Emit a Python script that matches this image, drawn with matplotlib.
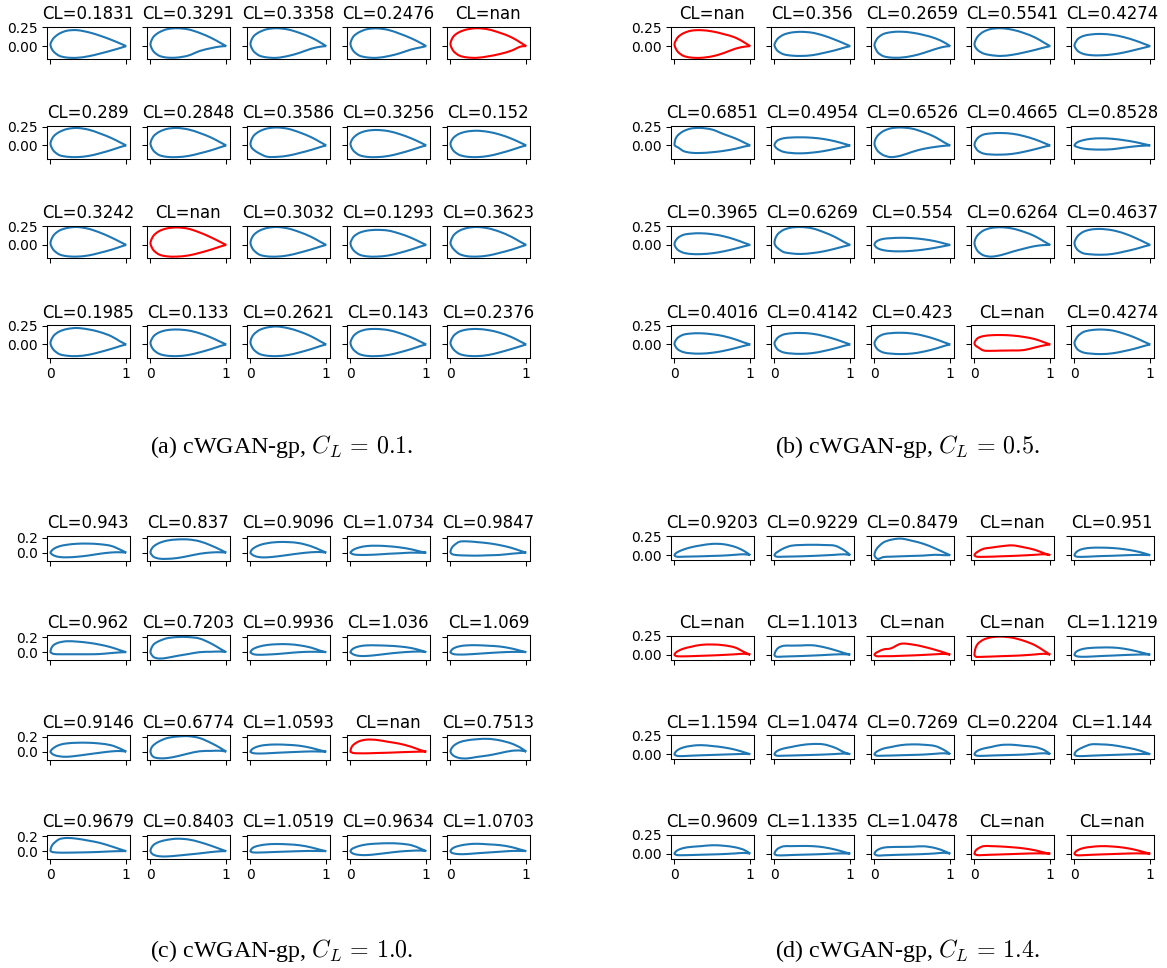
"""Grids of generated airfoils from four cWGAN-gp runs, one panel per target CL."""
import numpy as np
import matplotlib
matplotlib.use("Agg")
import matplotlib.pyplot as plt
from matplotlib.patches import PathPatch
from matplotlib.path import Path

W, H = 1167, 968
plt.rcParams["mathtext.fontset"] = "cm"

# chord stations shared by every outline, y values below are in 1/1000 chord
XS = [0.015, 0.05, 0.12, 0.22, 0.35, 0.5, 0.65, 0.8, 0.92]

A_CL = ["0.1831", "0.3291", "0.3358", "0.2476", "nan",
        "0.289", "0.2848", "0.3586", "0.3256", "0.152",
        "0.3242", "nan", "0.3032", "0.1293", "0.3623",
        "0.1985", "0.133", "0.2621", "0.143", "0.2376"]
A_LE = [20, 25, 30, 30, 30, 25, 25, 20, 20, 20, 25, 25, 30, 20, 25, 20, 20, 30, 20, 20]
A_UP = [
    [66, 115, 168, 205, 212, 185, 140, 85, 35],
    [80, 135, 186, 225, 238, 222, 175, 110, 45],
    [86, 140, 188, 225, 238, 220, 175, 115, 50],
    [86, 140, 188, 225, 236, 215, 165, 105, 45],
    [86, 140, 188, 222, 238, 222, 178, 120, 50],
    [76, 130, 180, 218, 232, 210, 160, 100, 40],
    [78, 133, 183, 220, 232, 212, 165, 105, 42],
    [80, 137, 188, 225, 238, 220, 172, 110, 45],
    [66, 114, 163, 195, 205, 190, 150, 95, 40],
    [66, 112, 157, 185, 195, 180, 145, 92, 38],
    [80, 138, 192, 225, 238, 215, 165, 100, 40],
    [78, 134, 186, 220, 232, 215, 165, 100, 40],
    [86, 140, 190, 225, 238, 218, 170, 108, 42],
    [66, 118, 162, 190, 200, 190, 150, 95, 38],
    [80, 138, 190, 225, 238, 220, 175, 110, 42],
    [70, 124, 173, 205, 218, 200, 165, 110, 40],
    [66, 118, 162, 190, 198, 185, 148, 92, 36],
    [88, 140, 192, 225, 238, 215, 170, 108, 42],
    [70, 124, 172, 200, 205, 190, 150, 95, 38],
    [70, 124, 172, 198, 205, 190, 155, 100, 40],
]
A_LOW = [
    [-33, -81, -130, -152, -155, -135, -100, -60, -25],
    [-28, -81, -130, -152, -152, -125, -65, -27, -5],
    [-24, -77, -127, -150, -155, -130, -88, -35, -8],
    [-24, -77, -127, -150, -155, -133, -95, -45, -18],
    [-24, -77, -127, -150, -155, -135, -105, -62, -8],
    [-28, -81, -130, -150, -155, -140, -105, -62, -22],
    [-28, -81, -130, -152, -155, -140, -105, -65, -25],
    [-28, -64, -108, -150, -152, -135, -100, -60, -22],
    [-32, -81, -130, -152, -155, -140, -105, -62, -22],
    [-32, -81, -127, -150, -155, -140, -105, -62, -22],
    [-26, -77, -127, -150, -155, -140, -105, -65, -25],
    [-28, -81, -130, -152, -155, -140, -105, -62, -22],
    [-26, -78, -130, -152, -155, -138, -102, -60, -22],
    [-32, -81, -130, -152, -155, -140, -105, -62, -22],
    [-18, -66, -122, -150, -155, -140, -105, -65, -25],
    [-32, -81, -130, -150, -155, -138, -102, -60, -22],
    [-32, -81, -127, -150, -155, -140, -105, -62, -22],
    [-24, -77, -127, -150, -155, -140, -105, -62, -22],
    [-32, -81, -130, -152, -155, -140, -105, -62, -22],
    [-28, -77, -127, -150, -155, -140, -105, -62, -25],
]

B_CL = ["nan", "0.356", "0.2659", "0.5541", "0.4274",
        "0.6851", "0.4954", "0.6526", "0.4665", "0.8528",
        "0.3965", "0.6269", "0.554", "0.6264", "0.4637",
        "0.4016", "0.4142", "0.423", "nan", "0.4274"]
B_LE = [25, 15, 15, 25, 10, 15, 5, 25, 10, 0, 10, 30, 5, 25, 25, 10, 15, 15, 15, 20]
B_UP = [
    [70, 124, 172, 205, 212, 195, 160, 115, 50],
    [58, 106, 152, 180, 190, 178, 140, 85, 35],
    [64, 116, 162, 185, 192, 178, 148, 105, 50],
    [80, 136, 192, 228, 238, 218, 175, 115, 45],
    [52, 100, 136, 155, 162, 150, 120, 75, 30],
    [88, 140, 190, 225, 232, 210, 150, 95, 38],
    [40, 72, 95, 105, 108, 102, 85, 55, 22],
    [86, 138, 192, 228, 238, 222, 175, 112, 40],
    [58, 106, 145, 160, 165, 155, 125, 80, 32],
    [24, 48, 71, 88, 95, 88, 70, 45, 18],
    [56, 98, 135, 150, 155, 142, 115, 72, 28],
    [95, 150, 200, 230, 238, 220, 170, 105, 38],
    [35, 60, 81, 90, 95, 90, 75, 50, 20],
    [86, 138, 192, 225, 235, 218, 175, 115, 45],
    [74, 126, 176, 205, 212, 195, 155, 95, 38],
    [52, 94, 130, 145, 148, 135, 110, 68, 25],
    [52, 96, 132, 148, 152, 142, 112, 70, 28],
    [56, 100, 135, 150, 155, 145, 115, 72, 28],
    [52, 88, 111, 122, 125, 118, 100, 70, 28],
    [64, 116, 166, 190, 198, 185, 145, 90, 35],
]
B_LOW = [
    [-28, -81, -130, -152, -155, -135, -92, -35, -8],
    [-28, -70, -108, -125, -130, -120, -90, -55, -20],
    [-35, -90, -134, -152, -152, -130, -90, -40, -8],
    [-18, -58, -98, -120, -130, -115, -85, -50, -18],
    [-28, -70, -104, -120, -122, -110, -85, -50, -20],
    [-10, -28, -75, -97, -100, -90, -72, -45, -15],
    [-24, -54, -85, -100, -105, -95, -75, -45, -18],
    [-28, -81, -130, -155, -135, -85, -45, -20, -5],
    [-30, -74, -108, -120, -122, -112, -85, -50, -18],
    [-12, -25, -42, -52, -55, -50, -30, -12, -3],
    [-30, -70, -104, -120, -122, -110, -85, -50, -18],
    [-12, -48, -94, -112, -120, -108, -85, -50, -18],
    [-22, -48, -70, -82, -85, -78, -62, -38, -15],
    [-33, -90, -138, -155, -135, -90, -50, -15, -2],
    [-28, -74, -112, -125, -130, -120, -90, -55, -20],
    [-30, -70, -103, -118, -122, -110, -85, -50, -18],
    [-30, -73, -106, -120, -125, -115, -88, -52, -18],
    [-30, -73, -108, -122, -128, -120, -95, -58, -20],
    [-15, -40, -80, -85, -82, -80, -75, -40, -12],
    [-30, -74, -108, -122, -128, -118, -90, -55, -20],
]

C_CL = ["0.943", "0.837", "0.9096", "1.0734", "0.9847",
        "0.962", "0.7203", "0.9936", "1.036", "1.069",
        "0.9146", "0.6774", "1.0593", "nan", "0.7513",
        "0.9679", "0.8403", "1.0519", "0.9634", "1.0703"]
C_LE = [0, 5, 0, 0, 10, 5, 5, 0, 0, 0, 0, 5, 0, 5, 5, 10, 5, 0, 0, 0]
C_UP = [
    [25, 55, 85, 105, 118, 120, 112, 90, 40],
    [50, 90, 130, 160, 175, 175, 150, 95, 40],
    [35, 65, 100, 125, 140, 140, 125, 85, 35],
    [20, 45, 70, 88, 92, 85, 70, 45, 15],
    [60, 100, 145, 150, 140, 125, 100, 65, 25],
    [60, 100, 130, 145, 140, 125, 100, 65, 25],
    [60, 110, 150, 185, 200, 200, 180, 115, 45],
    [25, 50, 75, 95, 105, 105, 90, 60, 20],
    [28, 55, 78, 90, 90, 85, 75, 55, 25],
    [28, 55, 78, 90, 92, 85, 75, 50, 20],
    [25, 55, 90, 110, 118, 118, 108, 85, 40],
    [55, 95, 140, 180, 200, 205, 180, 115, 50],
    [25, 50, 75, 90, 95, 90, 78, 50, 18],
    [60, 100, 140, 160, 155, 130, 105, 65, 22],
    [45, 85, 125, 150, 165, 170, 150, 110, 55],
    [65, 110, 160, 175, 165, 140, 110, 65, 25],
    [50, 90, 125, 150, 165, 155, 120, 72, 28],
    [30, 55, 75, 90, 95, 90, 78, 50, 18],
    [25, 45, 70, 90, 100, 105, 100, 80, 35],
    [25, 50, 72, 90, 98, 90, 80, 55, 22],
]
C_LOW = [
    [-18, -40, -58, -62, -55, -38, -15, 2, 5],
    [-28, -60, -80, -82, -72, -45, -15, 2, 5],
    [-20, -42, -60, -62, -50, -30, -10, 5, 8],
    [-12, -25, -30, -30, -25, -15, -8, 0, -2],
    [-15, -28, -35, -38, -40, -35, -30, -15, -5],
    [-12, -25, -28, -28, -28, -28, -25, -12, -3],
    [-35, -70, -85, -75, -50, -25, 0, 5, 8],
    [-15, -30, -35, -32, -25, -12, 0, 5, 3],
    [-15, -35, -50, -50, -38, -20, -5, 5, 8],
    [-15, -28, -32, -30, -22, -12, -3, 3, 3],
    [-22, -45, -62, -68, -55, -35, -15, 3, 8],
    [-45, -75, -88, -85, -62, -25, 5, 10, 12],
    [-12, -22, -25, -22, -15, -8, -2, 3, 1],
    [-10, -20, -22, -22, -18, -14, -8, -3, 0],
    [-30, -60, -85, -90, -70, -50, -20, 10, 15],
    [-8, -15, -20, -20, -18, -15, -10, -3, 0],
    [-28, -52, -68, -70, -60, -45, -30, -12, -2],
    [-12, -18, -18, -15, -10, -5, 0, 3, 1],
    [-20, -38, -50, -52, -40, -22, -5, 5, 8],
    [-20, -32, -40, -38, -28, -18, -8, 2, 3],
]

D_CL = ["0.9203", "0.9229", "0.8479", "nan", "0.951",
        "nan", "1.1013", "nan", "nan", "1.1219",
        "1.1594", "1.0474", "0.7269", "0.2204", "1.144",
        "0.9609", "1.1335", "1.0478", "nan", "nan"]
D_LE = [0, 0, 5, 0, 0, 0, 0, 0, 5, 0, 0, 0, 0, 0, 0, 0, 0, 0, 0, 0]
D_UP = [
    [22, 45, 75, 105, 130, 150, 145, 110, 55],
    [25, 50, 90, 125, 135, 138, 135, 125, 65],
    [60, 110, 170, 205, 220, 190, 150, 90, 35],
    [25, 50, 85, 100, 118, 130, 105, 70, 25],
    [30, 60, 85, 98, 100, 95, 80, 55, 25],
    [25, 50, 80, 105, 130, 135, 125, 95, 35],
    [45, 90, 118, 120, 122, 125, 100, 60, 22],
    [20, 40, 70, 85, 145, 135, 105, 65, 28],
    [90, 150, 200, 230, 240, 225, 185, 125, 50],
    [30, 55, 78, 90, 95, 95, 80, 50, 20],
    [30, 60, 90, 110, 120, 108, 90, 60, 25],
    [25, 50, 75, 95, 120, 135, 130, 85, 25],
    [22, 45, 75, 95, 120, 130, 125, 108, 55],
    [25, 50, 75, 95, 122, 125, 110, 95, 55],
    [30, 60, 95, 130, 130, 120, 95, 65, 28],
    [25, 50, 75, 90, 100, 112, 105, 85, 50],
    [35, 70, 98, 100, 102, 100, 85, 55, 22],
    [28, 55, 80, 88, 90, 92, 98, 75, 35],
    [40, 70, 100, 100, 95, 85, 70, 45, 15],
    [25, 50, 75, 90, 100, 95, 80, 52, 20],
]
D_LOW = [
    [-15, -22, -20, -18, -15, -10, -5, 5, 12],
    [-15, -22, -20, -18, -15, -10, -3, 5, 12],
    [-30, -50, -25, -20, -15, -10, -5, 5, 0],
    [-15, -22, -22, -20, -15, -10, -3, 5, 12],
    [-15, -22, -22, -18, -12, -8, -2, 3, 3],
    [-15, -22, -22, -20, -15, -10, -3, 5, 12],
    [-22, -28, -25, -22, -18, -12, -5, 3, 5],
    [-15, -22, -20, -20, -15, -10, -3, 5, 10],
    [-25, -30, -28, -25, -20, -15, -8, 3, 12],
    [-15, -25, -28, -25, -18, -12, -5, 0, 3],
    [-15, -25, -25, -20, -15, -10, -5, 0, 3],
    [-15, -22, -20, -18, -14, -10, -5, 2, 8],
    [-15, -22, -20, -18, -14, -10, -5, 5, 12],
    [-15, -22, -22, -18, -14, -10, -5, 5, 12],
    [-18, -25, -25, -20, -15, -10, -5, 0, 3],
    [-12, -20, -20, -18, -14, -10, -5, 3, 10],
    [-15, -22, -22, -18, -14, -10, -5, 2, 3],
    [-15, -25, -22, -18, -14, -10, -5, 3, 12],
    [-12, -20, -18, -14, -10, -5, 0, 4, 2],
    [-15, -22, -20, -15, -10, -5, 0, 4, 2],
]

Y_TICKS = [[0, 0.25], [0, 0.25], [0, 0.2], [0, 0.25]]
CAPTIONS = ["(a) cWGAN-gp, $C_L\\,=\\,0.1$.", "(b) cWGAN-gp, $C_L\\,=\\,0.5$.",
            "(c) cWGAN-gp, $C_L\\,=\\,1.0$.", "(d) cWGAN-gp, $C_L\\,=\\,1.4$."]

# layout in reference pixels
PX_PER_UNIT = 75.3
AX_W = 83.3
COL_STEP = 100
LEFTS = [46.7, 670.7, 46.7, 670.7]
TOPS = [[26.7, 126, 225.5, 325], [26.7, 126, 225.5, 325],
        [536, 635.5, 735, 834.5], [536, 635.5, 735, 834.5]]
CAPTION_POS = [(282, 446), (907, 446), (282, 951), (907, 951)]


def outline_path(xs, ys):
    # Bezier handles from neighbouring points so the outline stays smooth
    pts = np.column_stack([xs, ys])
    verts = [pts[0]]
    n = len(pts)
    for i in range(n - 1):
        prev_p = pts[max(i - 1, 0)]
        next_p = pts[min(i + 2, n - 1)]
        verts.append(pts[i] + (pts[i + 1] - prev_p) / 6)
        verts.append(pts[i + 1] - (next_p - pts[i]) / 6)
        verts.append(pts[i + 1])
    codes = [Path.MOVETO] + [Path.CURVE4] * (len(verts) - 1)
    return Path(verts, codes)


def draw_panel(fig, cl, le, up, low, yticks, left, tops):
    axes = []
    first = None
    for i, label in enumerate(cl):
        ax = fig.add_axes([0, 0, 0.1, 0.1], sharex=first, sharey=first)
        first = first or ax
        xs = [1] + XS[::-1] + [0] + XS + [1]
        ys = np.array([0] + up[i][::-1] + [le[i]] + low[i] + [0]) / 1000
        color = "red" if label == "nan" else "C0"
        ax.add_patch(PathPatch(outline_path(xs, ys), fill=False, edgecolor=color, lw=1.5))
        ax.update_datalim(np.column_stack([xs, ys]))
        ax.autoscale_view()
        ax.set_title("CL=" + label, fontsize=11.9, pad=5.4)
        ax.tick_params(labelsize=10, length=3.3, width=0.76, pad=3.3)
        for s in ax.spines.values():
            s.set_linewidth(0.76)
        axes.append(ax)
    axes[0].set_xticks([0, 1])
    axes[0].set_yticks(yticks)
    y0, y1 = axes[0].get_ylim()
    h = (y1 - y0) * PX_PER_UNIT
    for i, ax in enumerate(axes):
        r, c = divmod(i, 5)
        ax.tick_params(labelbottom=r == 3, labelleft=c == 0)
        x = left + c * COL_STEP
        ax.set_position([x / W, 1 - (tops[r] + h) / H, AX_W / W, h / H])


fig = plt.figure(figsize=(W / 100, H / 100), dpi=100)
panels = [(A_CL, A_LE, A_UP, A_LOW), (B_CL, B_LE, B_UP, B_LOW),
          (C_CL, C_LE, C_UP, C_LOW), (D_CL, D_LE, D_UP, D_LOW)]
for k, (cl, le, up, low) in enumerate(panels):
    draw_panel(fig, cl, le, up, low, Y_TICKS[k], LEFTS[k], TOPS[k])
    cx, cy = CAPTION_POS[k]
    fig.text(cx / W, 1 - cy / H, CAPTIONS[k], family="Liberation Serif",
             fontsize=17.3, ha="center", va="center")

fig.savefig("out.png", dpi=100)
